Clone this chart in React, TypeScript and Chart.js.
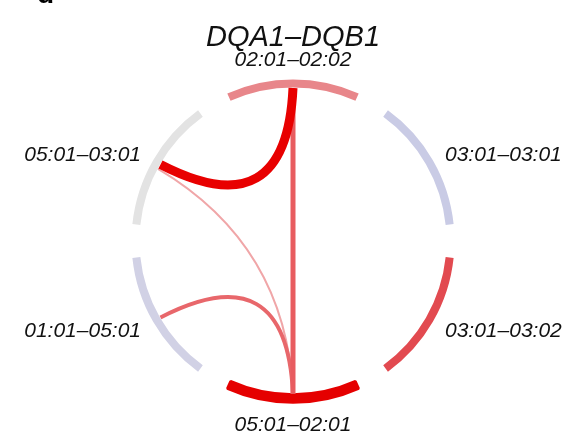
import React, { useEffect, useRef } from 'react';
import { Chart, registerables } from 'chart.js';

Chart.register(...registerables);

// ---- data ----
const panelLetter = 'd';
const chartTitle = 'DQA1–DQB1';
const haplotypes = ['02:01–02:02', '03:01–03:01', '03:01–03:02', '05:01–02:01', '01:01–05:01', '05:01–03:01'];
const haplotypeSizes = [48, 48, 48, 48, 48, 48];
const gapSize = 12;

// links between haplotype sectors
const linkFrom = [0, 0, 5, 4];
const linkTo = [5, 3, 3, 3];
const linkFromPos = [0.5, 0.5, 0.46, 0.5];
const linkToPos = [0.5, 0.5, 0.5, 0.5];
const linkWeights = [9, 5, 2, 4];

// ---- styles ----
const sectorColors = ['#e8868a', '#c9cbe5', '#e24a50', '#e50000', '#d1d1e5', '#e3e3e3'];
const sectorBorder = [0, 0, 0, 2.5, 0, 0];
const linkColors = ['#e80000', '#e85c60', '#f0a6a8', '#e8676b'];
const FONT = "'Liberation Sans', Arial, sans-serif";

const data: number[] = [];
const bg: string[] = [];
const bw: number[] = [];
const bc: string[] = [];
haplotypeSizes.forEach((v, i) => {
  data.push(v, gapSize);
  bg.push(sectorColors[i], 'rgba(0,0,0,0)');
  bw.push(sectorBorder[i], 0);
  bc.push(sectorColors[i], 'rgba(0,0,0,0)');
});

const chordPlugin = {
  id: 'chords',
  afterDatasetsDraw(chart: any) {
    const ctx = chart.ctx;
    const meta = chart.getDatasetMeta(0);
    const arcs = meta.data;
    if (!arcs.length) return;
    const a0 = arcs[0];
    const cx = a0.x;
    const cy = a0.y;
    const rIn = a0.innerRadius;
    const rOut = a0.outerRadius;
    const sector = (i: number) => arcs[i * 2];
    const angleAt = (i: number, f: number) => {
      const s = sector(i);
      return s.startAngle + f * (s.endAngle - s.startAngle);
    };
    ctx.save();
    const order = [2, 3, 1, 0];
    order.forEach((k) => {
      const aa = angleAt(linkFrom[k], linkFromPos[k]);
      const ab = angleAt(linkTo[k], linkToPos[k]);
      const r = rIn - 0.5;
      const x1 = cx + r * Math.cos(aa);
      const y1 = cy + r * Math.sin(aa);
      const x2 = cx + r * Math.cos(ab);
      const y2 = cy + r * Math.sin(ab);
      const mx = (x1 + x2) / 2;
      const my = (y1 + y2) / 2;
      const qx = cx + (mx - cx) * 0.1;
      const qy = cy + (my - cy) * 0.1;
      ctx.beginPath();
      ctx.moveTo(x1, y1);
      ctx.quadraticCurveTo(qx, qy, x2, y2);
      ctx.lineWidth = linkWeights[k];
      ctx.strokeStyle = linkColors[k];
      ctx.lineCap = 'butt';
      ctx.stroke();
    });
    ctx.fillStyle = '#111';
    ctx.font = `italic 21px ${FONT}`;
    ctx.textBaseline = 'middle';
    haplotypes.forEach((lab, i) => {
      const a = angleAt(i, 0.5);
      const c = Math.cos(a);
      const vertical = Math.abs(c) < 0.3;
      const d = vertical ? 21 : 14;
      const x = cx + (rOut + d) * c;
      const y = cy + (rOut + d) * Math.sin(a) + 2;
      ctx.textAlign = vertical ? 'center' : c > 0 ? 'left' : 'right';
      ctx.fillText(lab, x, y);
    });
    ctx.font = `bold 28px ${FONT}`;
    ctx.textAlign = 'left';
    ctx.textBaseline = 'alphabetic';
    ctx.fillStyle = '#000';
    ctx.fillText(panelLetter, 37, 3);
    ctx.restore();
  },
};

export default function App() {
  const ref = useRef<HTMLCanvasElement | null>(null);
  useEffect(() => {
    if (!ref.current) return;
    const chart = new Chart(ref.current, {
      type: 'doughnut',
      data: {
        labels: data.map((_, i) => (i % 2 === 0 ? haplotypes[i / 2] : '')),
        datasets: [
          {
            data,
            backgroundColor: bg,
            borderWidth: bw,
            borderColor: bc,
            borderAlign: 'center',
            hoverOffset: 0,
          } as any,
        ],
      },
      options: {
        animation: false,
        responsive: true,
        maintainAspectRatio: false,
        events: [],
        rotation: -24,
        cutout: 153.5,
        layout: { padding: { top: 0, bottom: 35.25, left: 130.25, right: 126.25 } },
        plugins: {
          legend: { display: false },
          tooltip: { enabled: false },
          title: {
            display: true,
            text: chartTitle,
            color: '#111',
            font: { size: 29, style: 'italic', weight: 'normal', family: FONT },
            padding: { top: 20.5, bottom: 22.95 },
          },
        },
      } as any,
      plugins: [chordPlugin],
    });
    return () => chart.destroy();
  }, []);
  return (
    <div style={{ position: 'fixed', left: 0, top: 0, width: 582, height: 439, background: '#fff' }}>
      <canvas ref={ref} />
    </div>
  );
}
